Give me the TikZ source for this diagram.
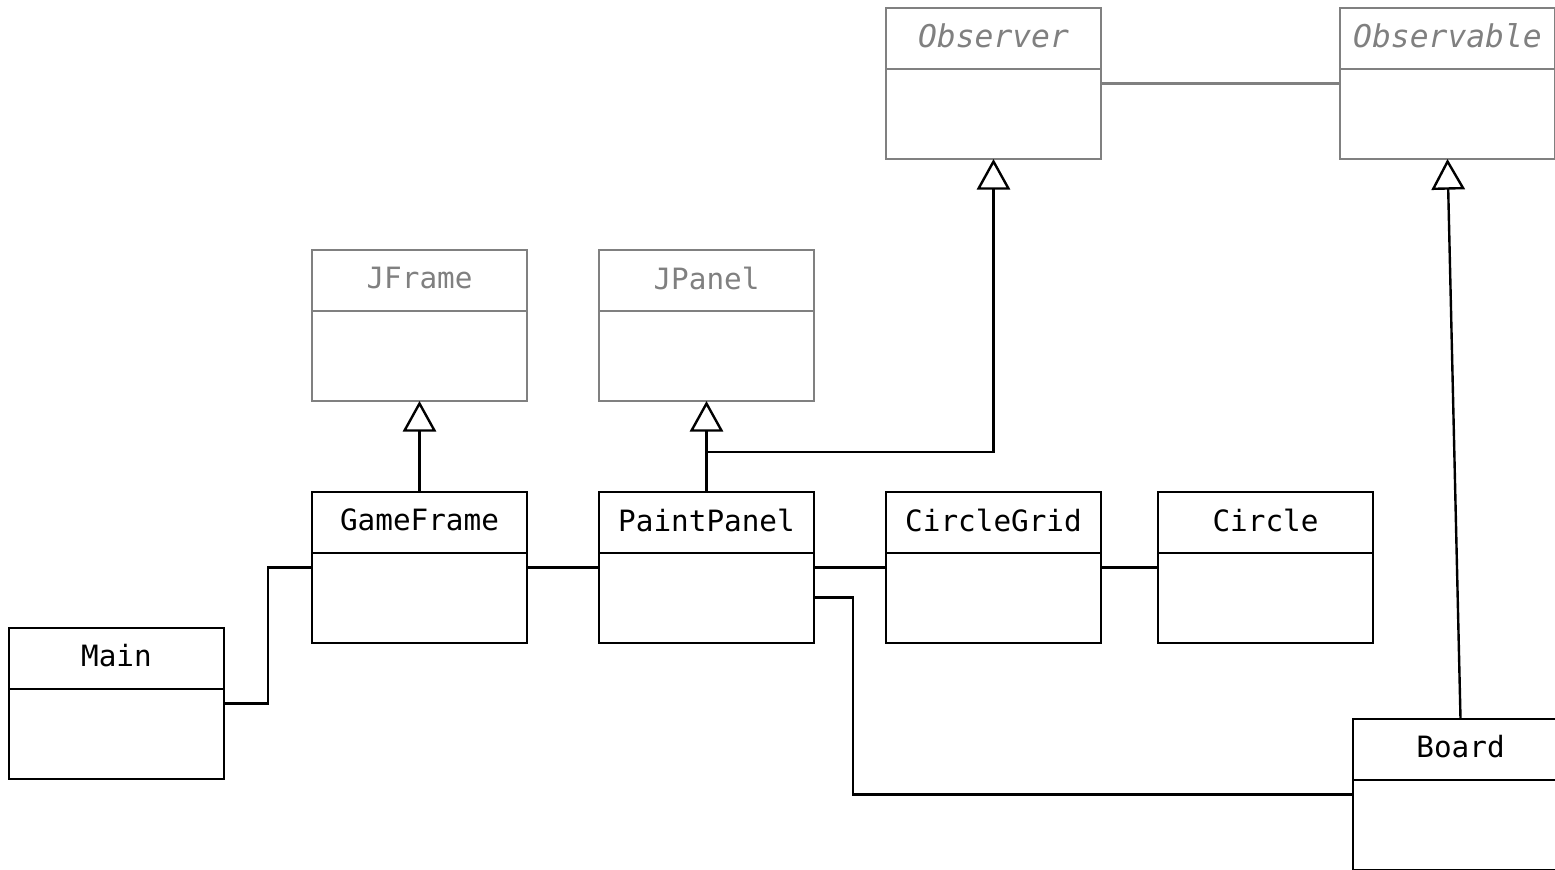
\documentclass[tikz,border=0pt]{standalone}
\usepackage{fontspec}
\usetikzlibrary{arrows.meta}
\newfontfamily\umlfont{DejaVu Sans Mono}
\definecolor{libgray}{RGB}{128,128,128}

\tikzset{every picture/.style={line width=1.8pt}}
\tikzset{
	umlbox/.style={draw, rectangle, inner sep=0pt, outer sep=0pt, minimum width=161.25pt, minimum height=113.25pt},
	umltitle/.style={inner sep=0pt, font=\umlfont\fontsize{22}{26}\selectfont},
	library/.style={draw=libgray, text=libgray},
	abstract/.style={library, font=\umlfont\fontsize{23.5}{28}\selectfont\itshape},
	inherit/.style={-{Triangle[open, length=23pt, width=25pt]}},
}

% class box: [style] name, centre, title  (yscale=-1, so a positive yshift goes down)
\newcommand{\classbox}[4][]{%
	\node[umlbox, #1] (#2) at (#3) {};
	\draw[#1] ([yshift=45.75pt]#2.north west) -- ([yshift=45.75pt]#2.north east);
	\node[umltitle, #1, draw=none] at ([yshift=21pt]#2.north) {#4};
}

\begin{document}
\begin{tikzpicture}[x=0.75pt,y=0.75pt,yscale=-1,xscale=1]
	\useasboundingbox (0,0) rectangle (1555,869);

	% library classes
	\classbox[abstract]{observer}{993.5,83.5}{Observer}
	\classbox[abstract]{observable}{1447.5,83.5}{Observable}
	\classbox[library]{jframe}{419.5,325.5}{JFrame}
	\classbox[library]{jpanel}{706.5,325.5}{JPanel}

	% own classes
	\classbox{gameframe}{419.5,567.5}{GameFrame}
	\classbox{paintpanel}{706.5,567.5}{PaintPanel}
	\classbox{circlegrid}{993.5,567.5}{CircleGrid}
	\classbox{circle}{1265.5,567.5}{Circle}
	\classbox{main}{116.5,703.5}{Main}
	\classbox{board}{1460.5,794.5}{Board}

	% associations
	\draw [libgray] (observer.east) -- (observable.west);
	\draw (main.east) -- ++(44,0) |- (gameframe.west);
	\draw (gameframe.east) -- (paintpanel.west);
	\draw (paintpanel.east) -- (circlegrid.west);
	\draw (circlegrid.east) -- (circle.west);
	\draw ([yshift=22.5pt]paintpanel.east) -- ++(39,0) |- (board.west);

	% generalisations
	\draw [inherit] (gameframe.north) -- (jframe.south);
	\draw [inherit] (paintpanel.north) -- (jpanel.south);
	\draw [inherit] ([yshift=-30pt]paintpanel.north) -| (observer.south);
	\draw [inherit] (board.north) -- (observable.south);

\end{tikzpicture}
\end{document}
